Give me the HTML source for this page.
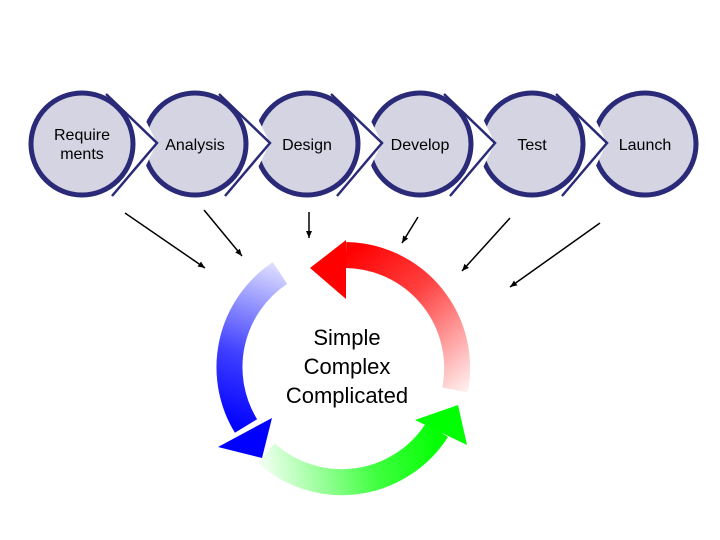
<!DOCTYPE html>
<html><head><style>
body{margin:0;background:#fff;}
svg{display:block;font-family:"Liberation Sans",Arial,sans-serif;}
</style></head><body>
<svg width="720" height="540" viewBox="0 0 720 540">
<defs>
<linearGradient id="gr" gradientUnits="userSpaceOnUse" x1="462" y1="395" x2="345" y2="256"><stop offset="0" stop-color="#fff0f0"/><stop offset="0.6" stop-color="#ff4040"/><stop offset="1" stop-color="#ff0000"/></linearGradient>
<linearGradient id="gb" gradientUnits="userSpaceOnUse" x1="300" y1="262" x2="240" y2="430"><stop offset="0" stop-color="#f0f0ff"/><stop offset="0.6" stop-color="#4040ff"/><stop offset="1" stop-color="#0000ff"/></linearGradient>
<linearGradient id="gg" gradientUnits="userSpaceOnUse" x1="262" y1="460" x2="440" y2="425"><stop offset="0" stop-color="#f0fff0"/><stop offset="0.6" stop-color="#40ff40"/><stop offset="1" stop-color="#00ff00"/></linearGradient>
<marker id="ah" markerWidth="8" markerHeight="8" refX="7" refY="4" orient="auto" markerUnits="userSpaceOnUse"><path d="M0,1 L7,4 L0,7 z" fill="#000"/></marker>
</defs>
<g fill="#d4d4e2" stroke="#2a2a78" stroke-width="5">
<circle cx="82" cy="144" r="51"/>
<circle cx="195" cy="144" r="51"/>
<circle cx="307" cy="144" r="51"/>
<circle cx="420" cy="144" r="51"/>
<circle cx="532" cy="144" r="51"/>
<circle cx="645" cy="144" r="51"/>
</g>
<!-- notches -->
<g fill="#fff">
<polygon points="136,101 157,143 136,186"/>
<polygon points="249,101 270,143 249,186"/>
<polygon points="361,101 382,143 361,186"/>
<polygon points="474,101 495,143 474,186"/>
<polygon points="586,101 607,143 586,186"/>
</g>
<g fill="none" stroke="#2a2a78" stroke-width="2.5">
<path d="M106,94 L157,143 L112,196"/>
<path d="M219,94 L270,143 L225,196"/>
<path d="M331,94 L382,143 L337,196"/>
<path d="M444,94 L495,143 L450,196"/>
<path d="M556,94 L607,143 L562,196"/>
</g>
<g font-size="16" fill="#000" text-anchor="middle">
<text x="82" y="140">Require</text><text x="82" y="159">ments</text>
<text x="195" y="150">Analysis</text>
<text x="307" y="150">Design</text>
<text x="420" y="150">Develop</text>
<text x="532" y="150">Test</text>
<text x="645" y="150">Launch</text>
</g>
<g stroke="#000" stroke-width="1.5" marker-end="url(#ah)">
<line x1="125" y1="213" x2="205" y2="268"/>
<line x1="204" y1="210" x2="242" y2="256"/>
<line x1="309" y1="212" x2="309" y2="238"/>
<line x1="418" y1="217" x2="402" y2="243"/>
<line x1="510" y1="218" x2="462" y2="271"/>
<line x1="600" y1="223" x2="510" y2="287"/>
</g>
<g fill="none" stroke-width="26">
<path d="M455,390 A113,113 0 0 0 346,255" stroke="url(#gr)"/>
<path d="M280,273 A113,113 0 0 0 246,426" stroke="url(#gb)"/>
<path d="M266,453 A113,113 0 0 0 437,430" stroke="url(#gg)"/>
</g>
<polygon points="346,240 346,299 310,268" fill="#ff0000"/>
<polygon points="218,447 272,418 262,458" fill="#0000ff"/>
<polygon points="415,420 458,405 467,445" fill="#00ff00"/>
<g font-size="22" fill="#000" text-anchor="middle">
<text x="347" y="345">Simple</text>
<text x="347" y="374">Complex</text>
<text x="347" y="403">Complicated</text>
</g>
</svg>
</body></html>
